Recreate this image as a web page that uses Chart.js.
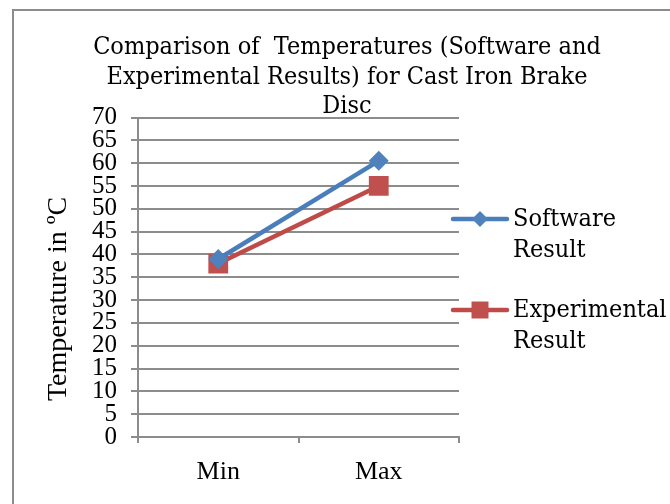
<!DOCTYPE html>
<html><head><meta charset="utf-8">
<script src="https://cdn.jsdelivr.net/npm/chart.js@4.4.1/dist/chart.umd.min.js"></script>
<style>
html,body{margin:0;padding:0;background:#fff;}
#wrap{position:relative;width:670px;height:504px;overflow:hidden;background:#fff;}
canvas{position:absolute;left:0;top:0;}
</style></head><body>
<div id="wrap"><canvas id="c" width="670" height="504"></canvas></div>
<script>
const titleLines = ['Comparison of  Temperatures (Software and', 'Experimental Results) for Cast Iron Brake', 'Disc'];
const categories = ['Min', 'Max'];
const seriesNames = [['Software', 'Result'], ['Experimental', 'Result']];
const softwareResult = [39, 60.5];
const experimentalResult = [38, 55];
const yAxisTitle = 'Temperature in ºC';
const yMin = 0;
const yMax = 70;
const yStep = 5;

const BLUE = '#4A7EBB', BLUE_FILL = '#4F81BD';
const RED = '#BE4B48', RED_FILL = '#C0504D';
const GRID = '#8C8C8C';
const TIMES = "'Liberation Serif', 'Times New Roman', serif";
const CAMBRIA = "'DejaVu Serif Condensed', 'DejaVu Serif', serif";

const extras = {
  id: 'extras',
  beforeDraw(chart) {
    const ctx = chart.ctx;
    ctx.save();
    ctx.strokeStyle = GRID;
    ctx.lineWidth = 2;
    ctx.beginPath();
    ctx.moveTo(13, 504);
    ctx.lineTo(13, 10);
    ctx.lineTo(670, 10);
    ctx.stroke();
    ctx.restore();
  },
  afterDraw(chart) {
    const ctx = chart.ctx;
    const area = chart.chartArea;
    // y axis title
    ctx.save();
    ctx.translate(59, 299);
    ctx.rotate(-Math.PI / 2);
    ctx.font = "28px " + TIMES;
    ctx.fillStyle = '#000';
    ctx.textAlign = 'center';
    ctx.textBaseline = 'middle';
    ctx.fillText(yAxisTitle, 0, 0);
    ctx.restore();
    // legend
    const items = [
      { lines: seriesNames[0], color: BLUE, fill: BLUE_FILL, style: 'rectRot', r: 8, y: 219 },
      { lines: seriesNames[1], color: RED, fill: RED_FILL, style: 'rect', r: 12, y: 310 }
    ];
    const lx = area.right - 6;
    items.forEach(it => {
      ctx.save();
      ctx.strokeStyle = it.color;
      ctx.lineWidth = 4.5;
      ctx.lineCap = 'round';
      ctx.beginPath();
      ctx.moveTo(lx, it.y);
      ctx.lineTo(lx + 54, it.y);
      ctx.stroke();
      ctx.fillStyle = it.fill;
      Chart.helpers.drawPoint(ctx, { pointStyle: it.style, radius: it.r, borderWidth: 0, rotation: 0 }, lx + 27, it.y);
      ctx.fillStyle = '#000';
      ctx.font = "25px " + CAMBRIA;
      ctx.textAlign = 'left';
      ctx.textBaseline = 'middle';
      it.lines.forEach((t, i) => ctx.fillText(t, lx + 60, it.y + i * 31));
      ctx.restore();
    });
  }
};

new Chart(document.getElementById('c').getContext('2d'), {
  type: 'line',
  data: {
    labels: categories,
    datasets: [
      {
        label: seriesNames[0].join(' '), data: softwareResult,
        borderColor: BLUE, backgroundColor: BLUE_FILL, borderWidth: 4.5, tension: 0,
        pointStyle: 'rectRot', pointRadius: 10, pointHoverRadius: 10,
        pointBackgroundColor: BLUE_FILL, pointBorderColor: BLUE_FILL, pointBorderWidth: 0
      },
      {
        label: seriesNames[1].join(' '), data: experimentalResult,
        borderColor: RED, backgroundColor: RED_FILL, borderWidth: 4.5, tension: 0,
        pointStyle: 'rect', pointRadius: 14, pointHoverRadius: 14,
        pointBackgroundColor: RED_FILL, pointBorderColor: RED_FILL, pointBorderWidth: 0
      }
    ]
  },
  options: {
    responsive: false, animation: false, events: [],
    layout: { padding: { left: 24, right: 0, top: 0, bottom: 0 } },
    plugins: {
      legend: { display: false },
      tooltip: { enabled: false },
      title: {
        display: true, text: titleLines, color: '#000',
        font: { family: CAMBRIA, size: 25, weight: 'normal', lineHeight: 1.18 },
        padding: { top: 33, bottom: -4 }
      }
    },
    scales: {
      x: {
        offset: true,
        grid: { offset: true, drawOnChartArea: false, drawTicks: true, tickLength: 6, color: GRID, lineWidth: 2 },
        border: { display: true, color: GRID, width: 2 },
        ticks: { font: { family: TIMES, size: 26 }, color: '#000', padding: 14 },
        afterFit(s) { s.height = 67; }
      },
      y: {
        min: yMin, max: yMax,
        ticks: { stepSize: yStep, autoSkip: false, font: { family: TIMES, size: 25, lineHeight: 1 }, color: '#000', padding: 14 },
        grid: { color: GRID, lineWidth: 2, tickLength: 7 },
        border: { display: true, color: GRID, width: 2 },
        afterFit(s) { s.width = 114; }
      },
      yR: {
        position: 'right', display: true,
        ticks: { display: false }, grid: { display: false }, border: { display: false },
        afterFit(s) { s.width = 211; }
      }
    }
  },
  plugins: [extras]
});
</script>
</body></html>
